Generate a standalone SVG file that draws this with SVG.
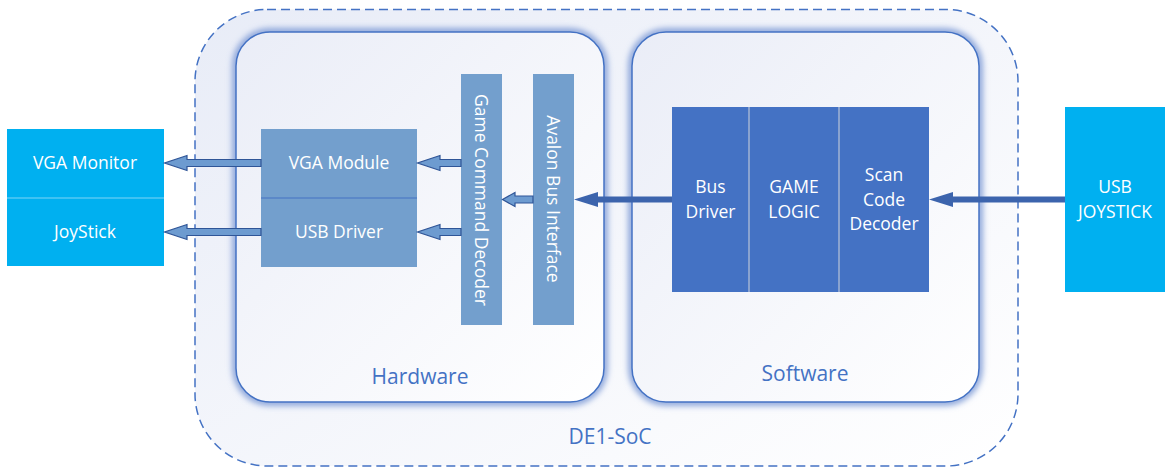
<svg xmlns="http://www.w3.org/2000/svg" width="1165" height="468" viewBox="0 0 1165 468">
  <defs>
    <linearGradient id="socFill" x1="0" y1="0" x2="1" y2="1">
      <stop offset="0" stop-color="#e8ecf7"/>
      <stop offset="1" stop-color="#ffffff"/>
    </linearGradient>
    <linearGradient id="panelFill" x1="0" y1="0" x2="1" y2="1">
      <stop offset="0" stop-color="#eaedf7"/>
      <stop offset="1" stop-color="#ffffff"/>
    </linearGradient>
    <filter id="glow" x="-10%" y="-10%" width="120%" height="120%">
      <feGaussianBlur stdDeviation="3"/>
    </filter>
  </defs>
  <style>
    .lbl { font-family: "Open Sans", "Noto Sans", "Liberation Sans", sans-serif; font-size: 17.5px; fill: #ffffff; text-anchor: middle; }
    .cap { font-family: "Open Sans", "Noto Sans", "Liberation Sans", sans-serif; font-size: 21px; fill: #4472c4; text-anchor: middle; }
    .panel { fill: url(#panelFill); stroke: #4472c4; stroke-width: 1.5; }
    .halo { fill: none; stroke: #7f9bd6; stroke-width: 7; filter: url(#glow); }
    .hwblk { fill: #739fcd; }
    .swblk { fill: #4472c4; }
    .ext { fill: #00b0f0; }
    .barrow { fill: #6d9bd0; stroke: #2f5597; stroke-width: 1.2; stroke-linejoin: miter; }
    .darrow { fill: #3c64ad; }
  </style>

  <!-- DE1-SoC board boundary -->
  <g id="soc">
    <rect x="195" y="9.5" width="823" height="456.5" rx="72" fill="url(#socFill)" stroke="#4472c4" stroke-width="1.5" stroke-dasharray="9 5"/>
    <text class="cap" x="610" y="444">DE1-SoC</text>
  </g>

  <!-- Hardware panel -->
  <g id="hardware">
    <rect class="halo" x="236" y="32" width="368" height="370" rx="34"/>
    <rect class="panel" x="236" y="32" width="368" height="370" rx="34"/>
    <text class="cap" x="420" y="384">Hardware</text>
  </g>

  <!-- Software panel -->
  <g id="software">
    <rect class="halo" x="632" y="32" width="347" height="370" rx="34"/>
    <rect class="panel" x="632" y="32" width="347" height="370" rx="34"/>
    <text class="cap" x="805" y="381">Software</text>
  </g>

  <!-- VGA module / USB driver stack -->
  <g id="vga-module">
    <rect class="hwblk" x="261" y="129" width="156" height="69"/>
    <text class="lbl" x="339" y="169">VGA Module</text>
  </g>
  <g id="usb-driver">
    <rect class="hwblk" x="261" y="198" width="156" height="69"/>
    <text class="lbl" x="339" y="238">USB Driver</text>
  </g>
  <line x1="261" y1="198" x2="417" y2="198" stroke="#4472c4" stroke-width="1.2"/>

  <!-- Vertical hardware bars -->
  <g id="game-command-decoder">
    <rect class="hwblk" x="461" y="74" width="41" height="251"/>
    <text class="lbl" transform="translate(475 200) rotate(90)" x="0" y="0">Game Command Decoder</text>
  </g>
  <g id="avalon-bus-interface">
    <rect class="hwblk" x="533" y="74" width="41" height="251"/>
    <text class="lbl" transform="translate(547 199) rotate(90)" x="0" y="0">Avalon Bus Interface</text>
  </g>

  <!-- Software blocks -->
  <g id="bus-driver">
    <rect class="swblk" x="672" y="107" width="77" height="185"/>
    <text class="lbl" x="710.5" y="193">Bus</text>
    <text class="lbl" x="710.5" y="218">Driver</text>
  </g>
  <g id="game-logic">
    <rect class="swblk" x="749" y="107" width="90" height="185"/>
    <text class="lbl" x="794" y="193">GAME</text>
    <text class="lbl" x="794" y="218">LOGIC</text>
  </g>
  <g id="scan-code-decoder">
    <rect class="swblk" x="839" y="107" width="90" height="185"/>
    <text class="lbl" x="884" y="181">Scan</text>
    <text class="lbl" x="884" y="206">Code</text>
    <text class="lbl" x="884" y="230">Decoder</text>
  </g>
  <g stroke="#b9c4d8" stroke-width="1.2">
    <line x1="749" y1="107" x2="749" y2="292"/>
    <line x1="839" y1="107" x2="839" y2="292"/>
  </g>

  <!-- External devices -->
  <g id="vga-monitor">
    <rect class="ext" x="7" y="129" width="157" height="69"/>
    <text class="lbl" x="85" y="169">VGA Monitor</text>
  </g>
  <g id="joystick">
    <rect class="ext" x="7" y="198" width="157" height="68"/>
    <text class="lbl" x="85" y="238">JoyStick</text>
  </g>
  <line x1="7" y1="198" x2="164" y2="198" stroke="#7fd3f5" stroke-width="1.2"/>
  <g id="usb-joystick">
    <rect class="ext" x="1065" y="107" width="100" height="185"/>
    <text class="lbl" x="1115" y="193">USB</text>
    <text class="lbl" x="1115" y="218">JOYSTICK</text>
  </g>

  <!-- Connectors -->
  <g id="connectors">
    <!-- VGA Module -> VGA Monitor -->
    <path class="barrow" d="M261 159.5 H187 V155.5 L164.5 163 L187 170.5 V166.5 H261 Z"/>
    <!-- USB Driver -> JoyStick -->
    <path class="barrow" d="M261 228.5 H187 V224.5 L164.5 232 L187 239.5 V235.5 H261 Z"/>
    <!-- Decoder -> VGA Module -->
    <path class="barrow" d="M461 159.5 H440 V155.5 L417.5 163 L440 170.5 V166.5 H461 Z"/>
    <!-- Decoder -> USB Driver -->
    <path class="barrow" d="M461 228.5 H440 V224.5 L417.5 232 L440 239.5 V235.5 H461 Z"/>
    <!-- Avalon -> Decoder -->
    <path class="barrow" d="M533 196 H515 V192.5 L502.5 199.5 L515 206.5 V203 H533 Z"/>
    <!-- Bus Driver -> Avalon -->
    <path class="darrow" d="M672 196.5 H598 V192 L574 199.5 L598 207 V202.5 H672 Z"/>
    <!-- USB Joystick -> Scan Code Decoder -->
    <path class="darrow" d="M1065 196.5 H953 V192 L929 199.5 L953 207 V202.5 H1065 Z"/>
  </g>
</svg>
